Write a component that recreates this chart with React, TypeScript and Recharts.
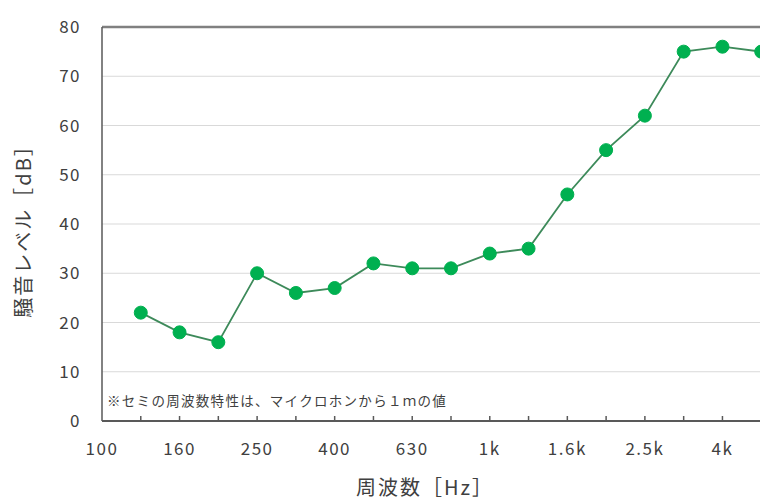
import React from "react";
import { LineChart, Line, XAxis, YAxis, CartesianGrid, ReferenceLine } from "recharts";

const freqLabels = ["100", "125", "160", "200", "250", "315", "400", "500", "630", "800", "1k", "1.25k", "1.6k", "2k", "2.5k", "3.15k", "4k", "5k", "6.3k"];
const levelValues = [null, 22, 18, 16, 30, 26, 27, 32, 31, 31, 34, 35, 46, 55, 62, 75, 76, 75];
const shownTicks = ["100", "160", "250", "400", "630", "1k", "1.6k", "2.5k", "4k"];
const yTicks = [0, 10, 20, 30, 40, 50, 60, 70, 80];

const data = levelValues.map((v, i) => ({ i, label: freqLabels[i], level: v }));
const xTickIdx = freqLabels.map((_, i) => i);

const FONT = "'Noto Sans CJK JP', 'Noto Sans', sans-serif";

const XTick = (props: any) => {
  const { x, y, payload } = props;
  const lab = freqLabels[payload.value];
  const show = shownTicks.includes(lab);
  return (
    <g>
      {payload.value > 0 && payload.value < 18 && (
        <line x1={x} x2={x} y1={y} y2={y - 5} stroke="#595959" strokeWidth={1.5} />
      )}
      {show && (
        <text x={x} y={y + 34} textAnchor="middle" fontSize={17} letterSpacing={1.5} fill="#404040" fontFamily={FONT}>
          {lab}
        </text>
      )}
    </g>
  );
};

const YTick = (props: any) => {
  const { x, y, payload } = props;
  return (
    <text x={x} y={y} dy={6} textAnchor="end" fontSize={17} letterSpacing={1.5} fill="#404040" fontFamily={FONT}>
      {payload.value}
    </text>
  );
};

export default function App() {
  return (
    <div style={{ position: "absolute", left: 0, top: 0, width: 760, height: 500, overflow: "hidden", background: "#fff" }}>
      <LineChart
        width={820}
        height={500}
        data={data}
        margin={{ top: 27, right: 20, bottom: 0, left: 0 }}
      >
        <CartesianGrid horizontal={true} vertical={false} stroke="#d9d9d9" strokeWidth={1} />
        <XAxis
          dataKey="i"
          type="number"
          domain={[0, 18]}
          ticks={xTickIdx}
          interval={0}
          tick={<XTick />}
          tickLine={false}
          tickSize={0}
          tickMargin={0}
          height={79}
          axisLine={{ stroke: "#595959", strokeWidth: 2 }}
        />
        <YAxis
          domain={[0, 80]}
          ticks={yTicks}
          width={102}
          tickLine={false}
          tickSize={0}
          tickMargin={21}
          tick={<YTick />}
          axisLine={{ stroke: "#595959", strokeWidth: 1.5 }}
        />
        <ReferenceLine y={80} stroke="#808080" strokeWidth={2.5} />
        <Line
          dataKey="level"
          stroke="#3d8a5a"
          strokeWidth={1.8}
          dot={{ r: 6.5, fill: "#00b050", stroke: "#00b050", strokeWidth: 1 }}
          isAnimationActive={false}
          connectNulls={false}
        />
      </LineChart>
      <div style={{ position: "absolute", left: 107, top: 390, fontSize: 13.5, lineHeight: "20px", color: "#404040", fontFamily: FONT, whiteSpace: "nowrap", letterSpacing: 1.3 }}>
        ※セミの周波数特性は、マイクロホンから１ｍの値
      </div>
      <div style={{ position: "absolute", left: 356, top: 475, fontSize: 20, lineHeight: "24px", color: "#404040", fontFamily: FONT, whiteSpace: "nowrap", letterSpacing: 2 }}>
        周波数［Hz］
      </div>
      <div style={{ position: "absolute", left: 22, top: 226, width: 0, height: 0 }}>
        <div style={{ position: "absolute", transform: "translate(-50%, -50%) rotate(-90deg)", fontSize: 20, color: "#404040", fontFamily: FONT, whiteSpace: "nowrap", letterSpacing: 2 }}>
          騒音レベル［dB］
        </div>
      </div>
    </div>
  );
}
